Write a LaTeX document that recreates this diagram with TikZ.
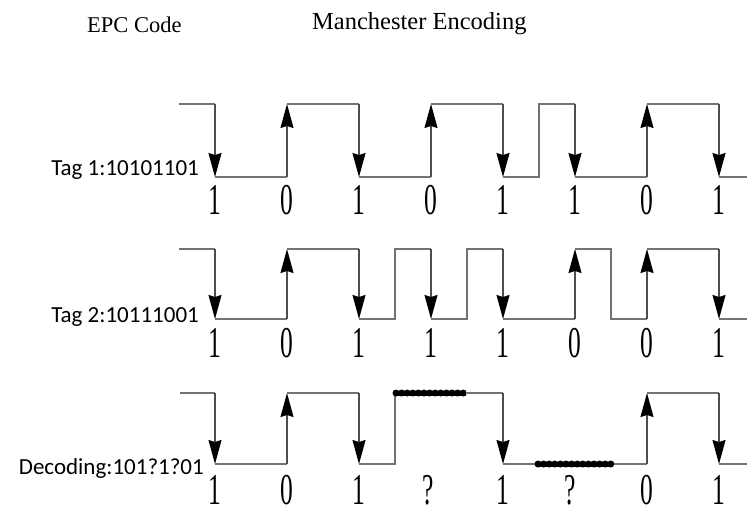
\documentclass[tikz,border=0pt]{standalone}
\usepackage{fontspec}
\setmainfont{Liberation Serif}
\newfontfamily\labelfont{Carlito}
\usetikzlibrary{arrows.meta}
\newcommand{\narrowdigit}[1]{\scalebox{0.58}[1]{#1}}
\begin{document}
\begin{tikzpicture}[x=1pt,y=-1pt,
  sig/.style={draw=black!55, line width=1.3pt},
  sigarrow/.style={draw=black!70, line width=1.3pt,
    -{Stealth[length=24pt,width=13pt,inset=2pt,color=black]}},
  bitlabel/.style={inner sep=0pt, anchor=base, font=\fontsize{44}{44}\selectfont},
  taglabel/.style={inner sep=0pt, anchor=base east, font=\labelfont\fontsize{23}{23}\selectfont},
  titlelabel/.style={inner sep=0pt, anchor=base west},
  beadline/.style={line width=5pt, black},
  beads/.style={line width=7pt, black, line cap=round, dash pattern=on 0pt off 5.6pt}
]
\useasboundingbox (0,0) rectangle (747,509);

% headings
\node[titlelabel, font=\fontsize{22.5}{22.5}\selectfont] (epc) at (87,32) {EPC Code};
\node[titlelabel, font=\fontsize{24.5}{24.5}\selectfont] (manch) at (312,29) {Manchester Encoding};

% ---------- Tag 1 : 10101101  (high 104, low 177)
\draw[sig] (179,104) -- (215,104);
\draw[sigarrow] (215,104) -- (215,177);
\draw[sig] (215,177) -- (287,177);
\draw[sigarrow] (287,177) -- (287,104);
\draw[sig] (287,104) -- (359,104);
\draw[sigarrow] (359,104) -- (359,177);
\draw[sig] (359,177) -- (431,177);
\draw[sigarrow] (431,177) -- (431,104);
\draw[sig] (431,104) -- (503,104);
\draw[sigarrow] (503,104) -- (503,177);
\draw[sig] (503,177) -- (539,177) -- (539,104) -- (575,104);
\draw[sigarrow] (575,104) -- (575,177);
\draw[sig] (575,177) -- (647,177);
\draw[sigarrow] (647,177) -- (647,104);
\draw[sig] (647,104) -- (719,104);
\draw[sigarrow] (719,104) -- (719,177);
\draw[sig] (719,177) -- (747,177);
\node[taglabel] (tag1) at (199,175) {Tag 1:10101101};
\foreach \x/\b [count=\i] in {215/1,287/0,359/1,431/0,503/1,575/1,647/0,719/1}
  \node[bitlabel] (a\i) at (\x,214) {\narrowdigit{\b}};

% ---------- Tag 2 : 10111001  (high 249, low 319)
\draw[sig] (179,249) -- (215,249);
\draw[sigarrow] (215,249) -- (215,319);
\draw[sig] (215,319) -- (287,319);
\draw[sigarrow] (287,319) -- (287,249);
\draw[sig] (287,249) -- (359,249);
\draw[sigarrow] (359,249) -- (359,319);
\draw[sig] (359,319) -- (395,319) -- (395,249) -- (431,249);
\draw[sigarrow] (431,249) -- (431,319);
\draw[sig] (431,319) -- (467,319) -- (467,249) -- (503,249);
\draw[sigarrow] (503,249) -- (503,319);
\draw[sig] (503,319) -- (575,319);
\draw[sigarrow] (575,319) -- (575,249);
\draw[sig] (575,249) -- (611,249) -- (611,319) -- (647,319);
\draw[sigarrow] (647,319) -- (647,249);
\draw[sig] (647,249) -- (719,249);
\draw[sigarrow] (719,249) -- (719,319);
\draw[sig] (719,319) -- (747,319);
\node[taglabel] (tag2) at (199,322) {Tag 2:10111001};
\foreach \x/\b [count=\i] in {215/1,287/0,359/1,431/1,503/1,575/0,647/0,719/1}
  \node[bitlabel] (b\i) at (\x,357) {\narrowdigit{\b}};

% ---------- collided reply, decoded as 101?1?01  (high 393, low 464)
\draw[sig] (180,393) -- (215,393);
\draw[sigarrow] (215,393) -- (215,464);
\draw[sig] (215,464) -- (287,464);
\draw[sigarrow] (287,464) -- (287,393);
\draw[sig] (287,393) -- (359,393);
\draw[sigarrow] (359,393) -- (359,464);
\draw[sig] (359,464) -- (395,464) -- (395,393);
\draw[sig] (467,393) -- (503,393);
\draw[sigarrow] (503,393) -- (503,464);
\draw[sig] (503,464) -- (537,464);
\draw[sig] (611,464) -- (647,464);
\draw[sigarrow] (647,464) -- (647,393);
\draw[sig] (647,393) -- (719,393);
\draw[sigarrow] (719,393) -- (719,464);
\draw[sig] (719,464) -- (747,464);
% unresolved half-bits
\draw[beadline] (396,393) -- (466,393);
\draw[beads] (396,393) -- (467,393);
\draw[beadline] (538,464) -- (610,464);
\draw[beads] (538,464) -- (611,464);
\node[taglabel] (dec) at (204,474) {Decoding:101?1?01};
\foreach \x/\b [count=\i] in {215/1,287/0,359/1,428/?,503/1,570/?,647/0,719/1}
  \node[bitlabel] (c\i) at (\x,504) {\narrowdigit{\b}};
\end{tikzpicture}
\end{document}
